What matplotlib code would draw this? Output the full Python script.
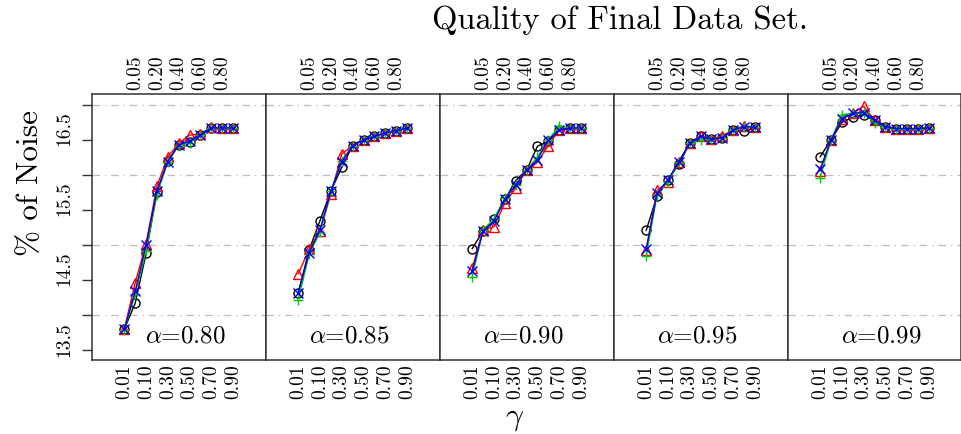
import matplotlib
matplotlib.use("Agg")
import matplotlib.pyplot as plt
import matplotlib.transforms as mtransforms

plt.rcParams['font.family'] = ['cmr10', 'DejaVu Serif']
plt.rcParams['mathtext.fontset'] = 'cm'
plt.rcParams['axes.formatter.use_mathtext'] = True

# gamma values (x, equally spaced categories)
gammas = [0.01, 0.05, 0.10, 0.20, 0.30, 0.40, 0.50, 0.60, 0.70, 0.80, 0.90]
alphas = ['0.80', '0.85', '0.90', '0.95', '0.99']

# % of noise per panel (one list per alpha), 4 series each
black_a80 = [13.80, 14.17, 14.88, 15.76, 16.20, 16.43, 16.47, 16.57, 16.67, 16.67, 16.67]
red_a80 = [13.80, 14.46, 15.02, 15.84, 16.26, 16.45, 16.57, 16.58, 16.68, 16.67, 16.67]
green_a80 = [13.79, 14.30, 14.92, 15.72, 16.19, 16.42, 16.46, 16.57, 16.67, 16.67, 16.67]
blue_a80 = [13.80, 14.34, 15.00, 15.77, 16.19, 16.43, 16.48, 16.57, 16.67, 16.67, 16.67]

black_a85 = [14.32, 14.93, 15.35, 15.77, 16.11, 16.42, 16.50, 16.55, 16.60, 16.63, 16.67]
red_a85 = [14.59, 14.94, 15.20, 15.73, 16.30, 16.42, 16.50, 16.55, 16.60, 16.63, 16.67]
green_a85 = [14.22, 14.87, 15.18, 15.77, 16.20, 16.42, 16.50, 16.55, 16.60, 16.63, 16.67]
blue_a85 = [14.32, 14.89, 15.22, 15.77, 16.19, 16.42, 16.50, 16.55, 16.60, 16.63, 16.67]

black_a90 = [14.95, 15.20, 15.37, 15.65, 15.92, 16.07, 16.41, 16.48, 16.64, 16.67, 16.67]
red_a90 = [14.67, 15.22, 15.26, 15.60, 15.81, 16.07, 16.18, 16.42, 16.64, 16.67, 16.67]
green_a90 = [14.55, 15.22, 15.37, 15.67, 15.86, 16.07, 16.26, 16.50, 16.70, 16.67, 16.67]
blue_a90 = [14.63, 15.20, 15.34, 15.65, 15.86, 16.07, 16.22, 16.50, 16.64, 16.67, 16.67]

black_a95 = [15.21, 15.70, 15.93, 16.15, 16.45, 16.55, 16.51, 16.53, 16.64, 16.62, 16.68]
red_a95 = [14.93, 15.78, 15.90, 16.19, 16.45, 16.55, 16.51, 16.56, 16.64, 16.70, 16.68]
green_a95 = [14.84, 15.72, 15.90, 16.19, 16.45, 16.50, 16.51, 16.53, 16.64, 16.69, 16.68]
blue_a95 = [14.94, 15.74, 15.93, 16.19, 16.45, 16.55, 16.51, 16.53, 16.64, 16.69, 16.68]

black_a99 = [16.26, 16.50, 16.75, 16.82, 16.86, 16.78, 16.69, 16.66, 16.66, 16.66, 16.67]
red_a99 = [16.06, 16.50, 16.80, 16.88, 16.98, 16.78, 16.69, 16.66, 16.66, 16.66, 16.67]
green_a99 = [15.96, 16.50, 16.86, 16.88, 16.89, 16.74, 16.69, 16.66, 16.66, 16.66, 16.67]
blue_a99 = [16.08, 16.50, 16.80, 16.88, 16.89, 16.78, 16.69, 16.66, 16.66, 16.66, 16.67]

panels = [
    [black_a80, red_a80, green_a80, blue_a80],
    [black_a85, red_a85, green_a85, blue_a85],
    [black_a90, red_a90, green_a90, blue_a90],
    [black_a95, red_a95, green_a95, blue_a95],
    [black_a99, red_a99, green_a99, blue_a99],
]

colors = ['black', '#ff0000', '#00cd00', '#0000ff']
markers = ['o', '^', '+', 'x']

x = list(range(len(gammas)))
label_x = [5.6, 4.7, 4.7, 4.7, 5.6]

fig = plt.figure(figsize=(9.62, 4.34), dpi=100)
left, right, bottom, top = 91.7 / 962, 961.5 / 962, 1 - 360 / 434, 1 - 94 / 434
w = (right - left) / 5
tick_fs = 14

for i, series in enumerate(panels):
    ax = fig.add_axes([left + i * w, bottom, w, top - bottom])
    for yy in [14, 15, 16, 17]:
        ax.axhline(yy, color='#bdbdbd', lw=0.9, ls='-.', dashes=(6, 4, 1, 4), zorder=0)
    for s, c, m in zip(series, colors, markers):
        ax.plot(x, s, color=c, lw=1.0, marker=m, ms=6.5, mfc='none', mec=c, mew=1.0)
    ax.set_xlim(-3, 13)
    ax.set_ylim(13.36, 17.155)
    for sp in ax.spines.values():
        sp.set_color('#333333')
        sp.set_linewidth(1.1)

    ax.set_xticks(x[::2])
    ax.set_xticklabels(['%.2f' % g for g in gammas[::2]], rotation=90, fontsize=tick_fs)
    ax.tick_params(axis='x', length=0, pad=3, bottom=True, top=False)
    top_ax = ax.secondary_xaxis('top')
    top_ax.set_xticks(x[1::2])
    top_ax.set_xticklabels(['%.2f' % g for g in gammas[1::2]], rotation=90, fontsize=tick_fs)
    top_ax.tick_params(length=0, pad=3)
    top_ax.spines['top'].set_visible(False)

    if i == 0:
        ax.set_yticks([13.5, 14, 14.5, 15, 15.5, 16, 16.5, 17])
        ax.set_yticklabels(['13.5', '', '14.5', '', '15.5', '', '16.5', ''],
                           rotation=90, va='center', fontsize=tick_fs)
        ax.tick_params(axis='y', length=7, width=1.0, color='#333333', pad=6)
        off = mtransforms.ScaledTranslation(0, 11 / 100, fig.dpi_scale_trans)
        for lab in ax.get_yticklabels():
            lab.set_transform(lab.get_transform() + off)
    else:
        ax.set_yticks([])

    ax.text(label_x[i], 13.70, r'$\alpha$=' + alphas[i], ha='center', va='center', fontsize=18)

fig.text(620 / 962, 1 - 20 / 434, 'Quality of Final Data Set.', ha='center', va='center', fontsize=23.5)
fig.text(30 / 962, 1 - 183 / 434, '% of Noise', ha='center', va='center', rotation=90, fontsize=22.5)
fig.text(515 / 962, 1 - 419 / 434, r'$\gamma$', ha='center', va='center', fontsize=23)

fig.savefig('out.png', dpi=100)
